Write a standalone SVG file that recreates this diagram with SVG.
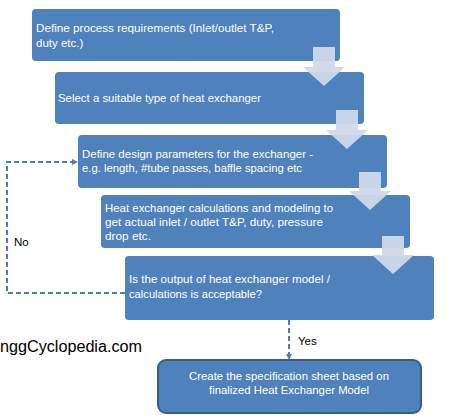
<svg xmlns="http://www.w3.org/2000/svg" width="459" height="420" viewBox="0 0 459 420">
<defs>
<marker id="ah" markerWidth="6" markerHeight="6" refX="5" refY="3" orient="auto" markerUnits="userSpaceOnUse">
<path d="M0,0 L6,3 L0,6 Z" fill="#4a7ebb"/>
</marker>
</defs>
<style>
.box{fill:#4f81bd;}
.box6{fill:#4f81bd;stroke:#385d8a;stroke-width:2;}
.t{font-family:"Liberation Sans",Arial,sans-serif;font-size:11.5px;fill:#ffffff;}
.l{font-family:"Liberation Sans",Arial,sans-serif;font-size:11.5px;fill:#000000;}
.arr{fill:#cfd9ea;opacity:0.95;}
.dash{fill:none;stroke:#4a7ebb;stroke-width:2;stroke-dasharray:5,3;}
</style>
<rect width="459" height="420" fill="#ffffff"/>
<g id="n1"><rect class="box" x="32" y="9" width="308" height="52" rx="4"/>
<text class="t" x="36" y="32" textLength="238" lengthAdjust="spacingAndGlyphs">Define process requirements (Inlet/outlet T&amp;P,</text>
<text class="t" x="36" y="47">duty etc.)</text></g>
<g id="n2"><rect class="box" x="55" y="72" width="309" height="52" rx="4"/>
<text class="t" x="58" y="102" textLength="203" lengthAdjust="spacingAndGlyphs">Select a suitable type of heat exchanger</text></g>
<g id="n3"><rect class="box" x="78" y="135" width="309" height="53" rx="4"/>
<text class="t" x="82" y="158" textLength="231" lengthAdjust="spacingAndGlyphs">Define design parameters for the exchanger -</text>
<text class="t" x="82" y="172" textLength="220" lengthAdjust="spacingAndGlyphs">e.g. length, #tube passes, baffle spacing etc</text></g>
<g id="n4"><rect class="box" x="101" y="195" width="309" height="53" rx="4"/>
<text class="t" x="105" y="212" textLength="228" lengthAdjust="spacingAndGlyphs">Heat exchanger calculations and modeling to</text>
<text class="t" x="105" y="226" textLength="218" lengthAdjust="spacingAndGlyphs">get actual inlet / outlet T&amp;P, duty, pressure</text>
<text class="t" x="105" y="240" textLength="46" lengthAdjust="spacingAndGlyphs">drop etc.</text></g>
<g id="n5"><rect class="box" x="125" y="256" width="309" height="64" rx="4"/>
<text class="t" x="129" y="283" textLength="201" lengthAdjust="spacingAndGlyphs">Is the output of heat exchanger model /</text>
<text class="t" x="129" y="298" textLength="133" lengthAdjust="spacingAndGlyphs">calculations is acceptable?</text></g>
<g id="n6"><rect class="box6" x="158" y="360" width="263" height="53" rx="8"/>
<text class="t" x="289" y="380" text-anchor="middle" textLength="200" lengthAdjust="spacingAndGlyphs">Create the specification sheet based on</text>
<text class="t" x="289" y="394" text-anchor="middle" textLength="160" lengthAdjust="spacingAndGlyphs">finalized Heat Exchanger Model</text></g>
<g id="connectors">
<path class="arr" d="M313,47 H335 V67 H345 L324,86 L303,67 H313 Z"/>
<path class="arr" d="M336,110 H358 V130 H368 L347,149 L326,130 H336 Z"/>
<path class="arr" d="M359,172 H381 V191 H391 L370,210 L349,191 H359 Z"/>
<path class="arr" d="M382,236 H404 V255 H414 L393,274 L372,255 H382 Z"/>
<path class="dash" d="M125,293 H7 V162 H77" marker-end="url(#ah)"/>
<path class="dash" d="M289,320 V359" marker-end="url(#ah)"/>
<text class="l" x="14" y="246">No</text>
<text class="l" x="298" y="345">Yes</text>
</g>
<text x="0" y="352" font-family="Liberation Sans,Arial,sans-serif" font-size="16" fill="#000000" textLength="142" lengthAdjust="spacingAndGlyphs">nggCyclopedia.com</text>
</svg>
